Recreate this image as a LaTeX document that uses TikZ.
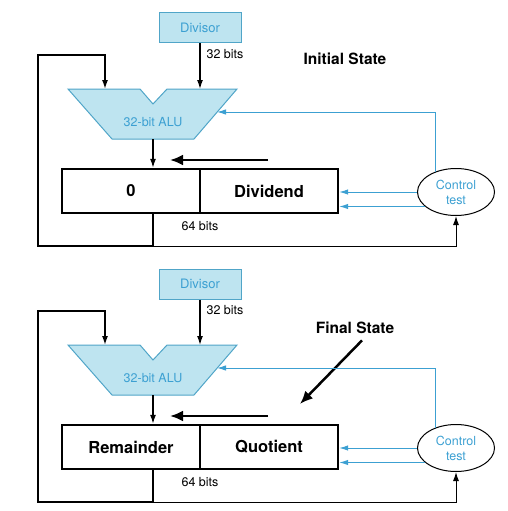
\documentclass[tikz,border=0pt]{standalone}
\usepackage{fontspec}
\setmainfont{TeX Gyre Heros}
\usetikzlibrary{arrows.meta,shapes.geometric}
\definecolor{alufill}{RGB}{190,228,240}
\definecolor{aluline}{RGB}{80,165,200}
\definecolor{ctlblue}{RGB}{60,160,210}
\begin{document}
\begin{tikzpicture}[x=1pt,y=-1pt,
  divbox/.style={draw=aluline,fill=alufill,line width=1pt,minimum width=82pt,minimum height=30pt,
    inner sep=0pt,text=ctlblue,font=\fontsize{13}{15}\selectfont},
  alu/.style={draw=aluline,fill=alufill,line width=1pt},
  alutext/.style={text=ctlblue,font=\fontsize{12.5}{14}\selectfont},
  reg/.style={draw,line width=2.4pt,minimum height=44pt,inner sep=0pt,font=\fontsize{16.5}{18}\bfseries},
  ctl/.style={draw,ellipse,line width=1pt,minimum width=77pt,minimum height=47pt,inner sep=0pt,
    align=center,text=ctlblue,font=\fontsize{12.5}{15}\selectfont},
  lbl/.style={font=\fontsize{12.5}{14}\selectfont},
  state/.style={font=\fontsize{15.5}{18}\bfseries},
  arr/.style={line width=1.3pt,-{Latex[length=9pt,width=6pt]}},
  fbl/.style={line width=1.5pt},
  thinl/.style={line width=1pt,-{Latex[length=9pt,width=6pt]}},
  shiftarr/.style={line width=2.5pt,-{Latex[length=13pt,width=11pt]}},
  ctlarr/.style={draw=ctlblue,line width=1pt,-{Latex[length=9pt,width=5.5pt]}}]
  \useasboundingbox (0,0) rectangle (508,511);
  \begin{scope}
   \node[divbox] (div1) at (200,28) {Divisor};
   \draw[alu] (68,89) -- (140,89) -- (153,104) -- (167,89) -- (237,89) -- (194,139) -- (112,139) -- cycle;
   \coordinate (alu1a) at (105,89);
   \coordinate (alu1b) at (200,89);
   \coordinate (alu1c) at (217,112);
   \coordinate (alu1out) at (153,139);
   \node[alutext] (alu1) at (153,122) {32-bit ALU};
   \node[reg,minimum width=138pt] (rem1) at (131,191) {0};
   \node[reg,minimum width=138pt] (quo1) at (269,191) {Dividend};
   \node[ctl] (ctl1) at (456,192) {Control\\test};
   \node[lbl] (bits1) at (225,54) {32 bits};
   \node[lbl] (wide1) at (200,226) {64 bits};
   \node[state] (st1) at (345,59) {Initial State};
   \coordinate (sh1a) at (268,160);
   \coordinate (sh1b) at (170,160);
   \draw[arr] (div1.south) -- (alu1b);
   \draw[arr] (alu1out) -- (alu1out |- rem1.north);
   \draw[fbl,-{Latex[length=9pt,width=6pt]}] (rem1.south -| alu1out) -- (153,246) coordinate (loop1) -| (38,55) -| (alu1a);
   \draw[thinl] (loop1) -| (ctl1.south);
   \draw[shiftarr] (sh1a) -- (sh1b);
   \draw[ctlarr] (ctl1.180) -- (ctl1.180 -| quo1.east);
   \draw[ctlarr] (ctl1.205) -- (ctl1.205 -| quo1.east);
   \draw[ctlarr] (ctl1.135) |- (alu1c);
  \end{scope}
  \begin{scope}[shift={(0,256)}]
   \node[divbox] (div2) at (200,28) {Divisor};
   \draw[alu] (68,89) -- (140,89) -- (153,104) -- (167,89) -- (237,89) -- (194,139) -- (112,139) -- cycle;
   \coordinate (alu2a) at (105,89);
   \coordinate (alu2b) at (200,89);
   \coordinate (alu2c) at (217,112);
   \coordinate (alu2out) at (153,139);
   \node[alutext] (alu2) at (153,122) {32-bit ALU};
   \node[reg,minimum width=138pt] (rem2) at (131,191) {Remainder};
   \node[reg,minimum width=138pt] (quo2) at (269,191) {Quotient};
   \node[ctl] (ctl2) at (456,192) {Control\\test};
   \node[lbl] (bits2) at (225,54) {32 bits};
   \node[lbl] (wide2) at (200,226) {64 bits};
   \node[state] (st2) at (355,72) {Final State};
   \coordinate (sh2a) at (268,160);
   \coordinate (sh2b) at (170,160);
   \coordinate (fs2) at (300,148);
   \draw[arr] (div2.south) -- (alu2b);
   \draw[arr] (alu2out) -- (alu2out |- rem2.north);
   \draw[fbl,-{Latex[length=9pt,width=6pt]}] (rem2.south -| alu2out) -- (153,246) coordinate (loop2) -| (38,55) -| (alu2a);
   \draw[thinl] (loop2) -| (ctl2.south);
   \draw[shiftarr] (sh2a) -- (sh2b);
   \draw[shiftarr] ([xshift=7pt,yshift=-3pt]st2.south) -- (fs2);
   \draw[ctlarr] (ctl2.180) -- (ctl2.180 -| quo2.east);
   \draw[ctlarr] (ctl2.205) -- (ctl2.205 -| quo2.east);
   \draw[ctlarr] (ctl2.135) |- (alu2c);
  \end{scope}
\end{tikzpicture}
\end{document}
